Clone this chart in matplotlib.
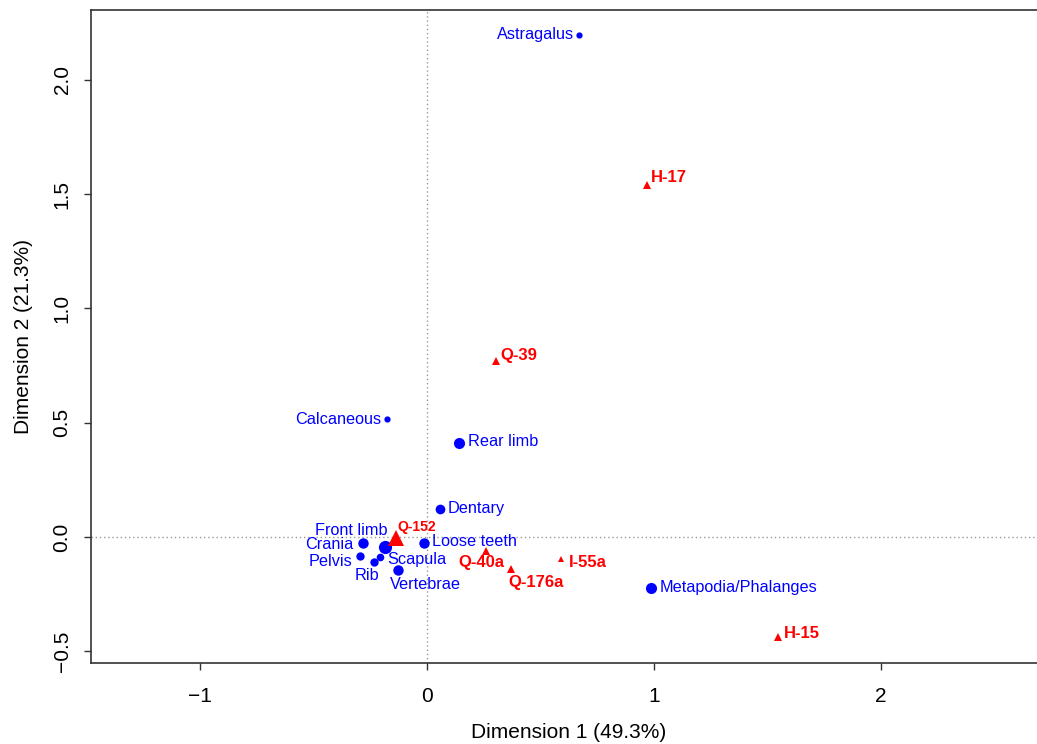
import numpy as np
import matplotlib.pyplot as plt

plt.rcParams['font.family'] = ['Liberation Sans', 'DejaVu Sans']

# column points (skeletal elements)
elements = ['Astragalus', 'Calcaneous', 'Rear limb', 'Dentary', 'Front limb',
            'Crania', 'Pelvis', 'Rib', 'Scapula', 'Vertebrae', 'Loose teeth',
            'Metapodia/Phalanges']
elem_x = [0.670, -0.176, 0.141, 0.057, -0.186, -0.283, -0.295, -0.232,
          -0.206, -0.126, -0.013, 0.987]
elem_y = [2.197, 0.516, 0.411, 0.121, -0.042, -0.028, -0.083, -0.108,
          -0.088, -0.144, -0.025, -0.223]

# row points (contexts)
contexts = ['H-17', 'Q-39', 'Q-152', 'Q-40a', 'Q-176a', 'I-55a', 'H-15']
ctx_x = [0.969, 0.304, -0.138, 0.260, 0.369, 0.589, 1.546]
ctx_y = [1.540, 0.770, -0.006, -0.061, -0.140, -0.098, -0.438]

# marker sizes (pt) and label offsets (pixels) - layout only
elem_ms = [4.5, 4.5, 8, 7, 9.5, 7.5, 6, 6, 5.5, 7.5, 7.5, 8]
ctx_ms = [5.5, 5.5, 11.5, 5.5, 5.5, 5, 6]
elem_off = [(-5, 0, 'right'), (-6, 0, 'right'), (9, 2, 'left'), (8, 1, 'left'),
            (3, 16, 'right'), (-9, -1, 'right'), (-8, -5, 'right'),
            (-7, -14, 'center'), (7, -2, 'left'), (-9, -15, 'left'),
            (8, 1, 'left'), (8, 1, 'left')]
ctx_off = [(4, 8, 'left'), (4, 6, 'left'), (2, 11, 'left'), (-5, -12, 'center'),
           (-2, -13, 'left'), (8, -3, 'left'), (6, 4, 'left')]

fig = plt.figure(figsize=(10.37, 7.44), dpi=100)
ax = fig.add_axes([0.0878, 0.1089, 0.922, 0.8777])

ax.axhline(0, color='#999999', lw=1, ls=(0, (1, 2)), zorder=1)
ax.axvline(0, color='#999999', lw=1, ls=(0, (1, 2)), zorder=1)

for i, name in enumerate(elements):
    ax.plot(elem_x[i], elem_y[i], 'o', color='#0000ff', ms=elem_ms[i], mew=0, zorder=3)
    dx, dy, ha = elem_off[i]
    ax.annotate(name, (elem_x[i], elem_y[i]), xytext=(dx, dy), textcoords='offset pixels',
                ha=ha, va='center', color='#0000ff', fontsize=11.7)

for i, name in enumerate(contexts):
    ax.plot(ctx_x[i], ctx_y[i], '^', color='#ff0000', ms=ctx_ms[i], mew=0, zorder=3)
    dx, dy, ha = ctx_off[i]
    fs = 10 if name == 'Q-152' else 12
    ax.annotate(name, (ctx_x[i], ctx_y[i]), xytext=(dx, dy), textcoords='offset pixels',
                ha=ha, va='center', color='#ff0000', fontsize=fs, fontweight='bold')

ax.set_xlim(-1.480, 2.731)
ax.set_ylim(-0.551, 2.306)
ax.set_xticks([-1, 0, 1, 2])
ax.set_yticks([-0.5, 0.0, 0.5, 1.0, 1.5, 2.0])
ax.set_xticklabels(['\u22121', '0', '1', '2'])
ax.set_yticklabels(['\u22120.5', '0.0', '0.5', '1.0', '1.5', '2.0'], rotation=90, va='center')
ax.tick_params(axis='both', length=5, width=1, color='#333333', labelsize=15)
ax.tick_params(axis='x', pad=12)
ax.tick_params(axis='y', pad=9)
for s in ax.spines.values():
    s.set_color('#333333')
    s.set_linewidth(1.2)

ax.set_xlabel('Dimension 1 (49.3%)', fontsize=15)
ax.set_ylabel('Dimension 2 (21.3%)', fontsize=15)
ax.xaxis.label.set_va('center')
ax.yaxis.label.set_va('center')
ax.xaxis.set_label_coords(0.5, -0.1057)
ax.yaxis.set_label_coords(-0.0711, 0.5)

fig.savefig('out.png', dpi=100)
